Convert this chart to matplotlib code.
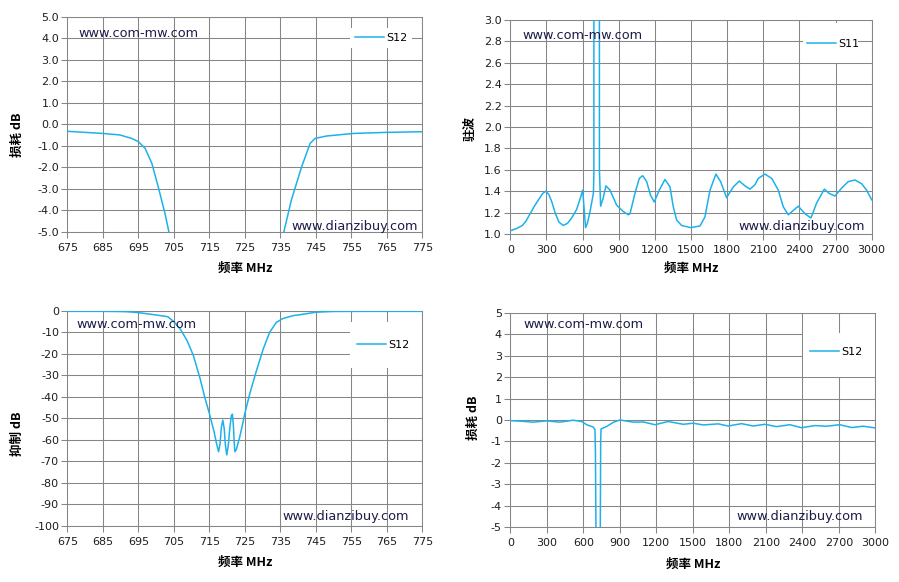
import matplotlib
matplotlib.use("Agg")
import matplotlib.pyplot as plt
from matplotlib.patches import Rectangle
import numpy as np

# ---------------- data ----------------
# Panel 1: S12 passband, 675-775 MHz, loss dB (clipped at -5)
p1_freq = [675, 680, 685, 689.8, 693.1, 695, 696.9, 698.8, 700.6, 702.5, 703.6, 705, 710, 720,
           730, 735, 736, 738.1, 741, 743.4, 744.8, 748, 755.6, 765, 775]
p1_s12 = [-0.33, -0.38, -0.43, -0.50, -0.66, -0.81, -1.12, -1.82, -2.91, -4.15, -5.0, -6.5, -18, -60,
          -15, -6.5, -5.0, -3.53, -1.98, -0.89, -0.66, -0.55, -0.43, -0.38, -0.35]

# Panel 2: S11 VSWR, 0-3000 MHz
p2_freq = [0, 50, 100, 130, 165, 200, 240, 270, 295, 320, 345, 375, 405, 440, 475, 510, 551, 580,
           601, 612, 625, 640, 662, 690, 694, 697, 717, 737, 740, 750, 770, 794, 828, 883, 938,
           980, 994, 1035, 1071, 1099, 1132, 1165, 1195, 1237, 1284, 1326, 1353, 1381, 1422,
           1497, 1575, 1616, 1658, 1707, 1746, 1796, 1851, 1901, 1948, 1990, 2031, 2059, 2114,
           2170, 2225, 2266, 2308, 2349, 2391, 2446, 2496, 2543, 2607, 2646, 2695, 2751, 2806,
           2861, 2917, 2958, 3000]
p2_s11 = [1.03, 1.05, 1.08, 1.12, 1.19, 1.26, 1.33, 1.38, 1.40, 1.37, 1.30, 1.19, 1.11, 1.08,
          1.10, 1.15, 1.23, 1.33, 1.41, 1.25, 1.06, 1.10, 1.21, 1.38, 1.55, 30, 40, 30, 1.6, 1.26,
          1.33, 1.45, 1.41, 1.27, 1.21, 1.18, 1.19, 1.38, 1.52, 1.545, 1.49, 1.36, 1.30, 1.41,
          1.51, 1.44, 1.255, 1.13, 1.08, 1.06, 1.075, 1.16, 1.41, 1.56, 1.49, 1.34, 1.44, 1.495,
          1.45, 1.42, 1.46, 1.52, 1.56, 1.52, 1.41, 1.255, 1.18, 1.22, 1.26, 1.19, 1.15, 1.29,
          1.42, 1.38, 1.355, 1.43, 1.49, 1.505, 1.47, 1.41, 1.32]

# Panel 3: S12 rejection, 675-775 MHz, dB
p3_freq = [675, 685, 690, 692, 695, 700, 703.3, 705, 706.8, 708.7, 710.5, 712.4, 713.8, 715,
           716.3, 717.0, 717.6, 718.0, 718.4, 718.8, 719.2, 719.5, 719.9, 720.3, 720.8, 721.2,
           721.5, 721.8, 722.0, 722.2, 722.6, 723.5, 724.2, 725, 726.4, 728.3, 730.2, 732,
           733.9, 735.8, 738.6, 740.5, 745, 750, 760, 775]
p3_s12 = [-0.3, -0.3, -0.4, -0.5, -0.9, -2.0, -2.8, -5.1, -8.5, -13.8, -20.8, -31.6, -40.8, -47.7,
          -56, -61.5, -65.5, -62, -54, -50.8, -55, -62, -67.0, -63, -54, -48.8, -48.1, -54, -61,
          -65.5, -64.5, -59, -54, -47.7, -38.5, -27.7, -17.7, -10, -5.4, -3.6, -2.3, -1.9, -0.7,
          -0.35, -0.3, -0.3]

# Panel 4: S12 wideband, 0-3000 MHz, loss dB
p4_freq = [0, 100, 189, 299, 408, 518, 587, 628, 682, 696, 700, 704, 710, 720, 735, 740, 743,
           746, 792, 850, 901, 1011, 1093, 1189, 1298, 1421, 1504, 1586, 1709, 1791, 1901, 1997,
           2093, 2189, 2298, 2394, 2504, 2600, 2709, 2805, 2901, 3000]
p4_s12 = [-0.03, -0.06, -0.10, -0.04, -0.10, -0.01, -0.07, -0.22, -0.33, -0.45, -1.5, -5.0, -20,
          -60, -20, -5.0, -1.0, -0.42, -0.30, -0.10, 0.0, -0.10, -0.09, -0.22, -0.07, -0.20,
          -0.15, -0.23, -0.18, -0.28, -0.17, -0.28, -0.20, -0.31, -0.22, -0.36, -0.26, -0.29,
          -0.22, -0.35, -0.29, -0.37]

# ticks
wide_ticks = [0, 300, 600, 900, 1200, 1500, 1800, 2100, 2400, 2700, 3000]
narrow_ticks = [675, 685, 695, 705, 715, 725, 735, 745, 755, 765, 775]

# ---------------- style ----------------
LINE = '#1DB1EA'
GRID = '#868686'
WM = '#1c1c48'
CJK = ['Noto Sans CJK SC', 'DejaVu Sans']
plt.rcParams['font.family'] = ['DejaVu Sans']

fig = plt.figure(figsize=(8.99, 5.82), dpi=100)

panels = [
    dict(rect=[0.0749, 0.6019, 0.3949, 0.3694], x=p1_freq, y=p1_s12, xlim=(675, 775),
         xt=narrow_ticks, ylim=(-5, 5), yt=np.arange(-5, 5.01, 1.0), yfmt='{:.1f}',
         ylabel='损耗 dB', ylc=(-0.122, 0.45), xlc=(0.5, -0.141),
         leg='S12', legpos=(0.885, 0.90), legbox=(0.796, 0.854, 0.175, 0.093),
         wm1=(0.03, 0.92), wm2=(0.988, 0.022)),
    dict(rect=[0.5676, 0.5979, 0.4020, 0.3677], x=p2_freq, y=p2_s11, xlim=(0, 3000),
         xt=wide_ticks, ylim=(1.0, 3.0), yt=np.arange(1.0, 3.01, 0.2), yfmt='{:.1f}',
         ylabel='驻波', ylc=(-0.092, 0.495), xlc=(0.5, -0.131),
         leg='S11', legpos=(0.893, 0.888), legbox=(0.81, 0.799, 0.152, 0.187),
         wm1=(0.035, 0.93), wm2=(0.981, 0.033)),
    dict(rect=[0.0749, 0.0962, 0.3949, 0.3700], x=p3_freq, y=p3_s12, xlim=(675, 775),
         xt=narrow_ticks, ylim=(-100, 0), yt=np.arange(-100, 0.1, 10), yfmt='{:.0f}',
         ylabel='抑制 dB', ylc=(-0.122, 0.43), xlc=(0.5, -0.139),
         leg='S12', legpos=(0.889, 0.84), legbox=(0.796, 0.734, 0.204, 0.214),
         wm1=(0.025, 0.938), wm2=(0.963, 0.042)),
    dict(rect=[0.5676, 0.0940, 0.4060, 0.3687], x=p4_freq, y=p4_s12, xlim=(0, 3000),
         xt=wide_ticks, ylim=(-5, 5), yt=np.arange(-5, 5.01, 1), yfmt='{:.0f}',
         ylabel='损耗 dB', ylc=(-0.083, 0.51), xlc=(0.5, -0.143),
         leg='S12', legpos=(0.892, 0.817), legbox=(0.802, 0.70, 0.198, 0.206),
         wm1=(0.035, 0.943), wm2=(0.967, 0.048)),
]


def fmt(f, v):
    s = f.format(v)
    if s.startswith('-') and float(s) == 0:
        s = s[1:]
    return s


for p in panels:
    ax = fig.add_axes(p['rect'])
    ax.plot(p['x'], p['y'], color=LINE, lw=1.1, label=p['leg'], zorder=3)
    ax.set_xlim(*p['xlim'])
    ax.set_ylim(*p['ylim'])
    ax.set_xticks(p['xt'])
    ax.set_xticklabels([str(t) for t in p['xt']])
    ax.set_yticks(p['yt'])
    ax.set_yticklabels([fmt(p['yfmt'], v) for v in p['yt']])
    ax.grid(True, color=GRID, lw=0.75)
    ax.set_axisbelow(True)
    for s in ax.spines.values():
        s.set_color(GRID)
        s.set_linewidth(0.75)
    ax.tick_params(axis='both', colors=GRID, labelcolor='#1e1e1e', labelsize=8,
                   length=4, width=0.75, direction='out', pad=2)
    ax.tick_params(axis='x', pad=4)
    ax.set_xlabel('频率 MHz', family=CJK, fontweight='bold', fontsize=9)
    ax.set_ylabel(p['ylabel'], family=CJK, fontweight='bold', fontsize=9)
    ax.xaxis.set_label_coords(*p['xlc'])
    ax.yaxis.set_label_coords(*p['ylc'])
    ax.text(p['wm1'][0], p['wm1'][1], 'www.com-mw.com', transform=ax.transAxes, fontsize=9.3,
            color=WM, va='center', ha='left', zorder=4)
    ax.text(p['wm2'][0], p['wm2'][1], 'www.dianzibuy.com', transform=ax.transAxes, fontsize=9.3,
            color=WM, ha='right', va='center', zorder=4)
    bx, by, bw, bh = p['legbox']
    ax.add_patch(Rectangle((bx, by), bw, bh, transform=ax.transAxes, facecolor='white',
                           edgecolor='none', zorder=2))
    leg = ax.legend(loc='center', bbox_to_anchor=p['legpos'], frameon=False, fontsize=8,
                    handlelength=2.6, handletextpad=0.2, borderpad=0.2)

fig.savefig('out.png', dpi=100, facecolor='white')
